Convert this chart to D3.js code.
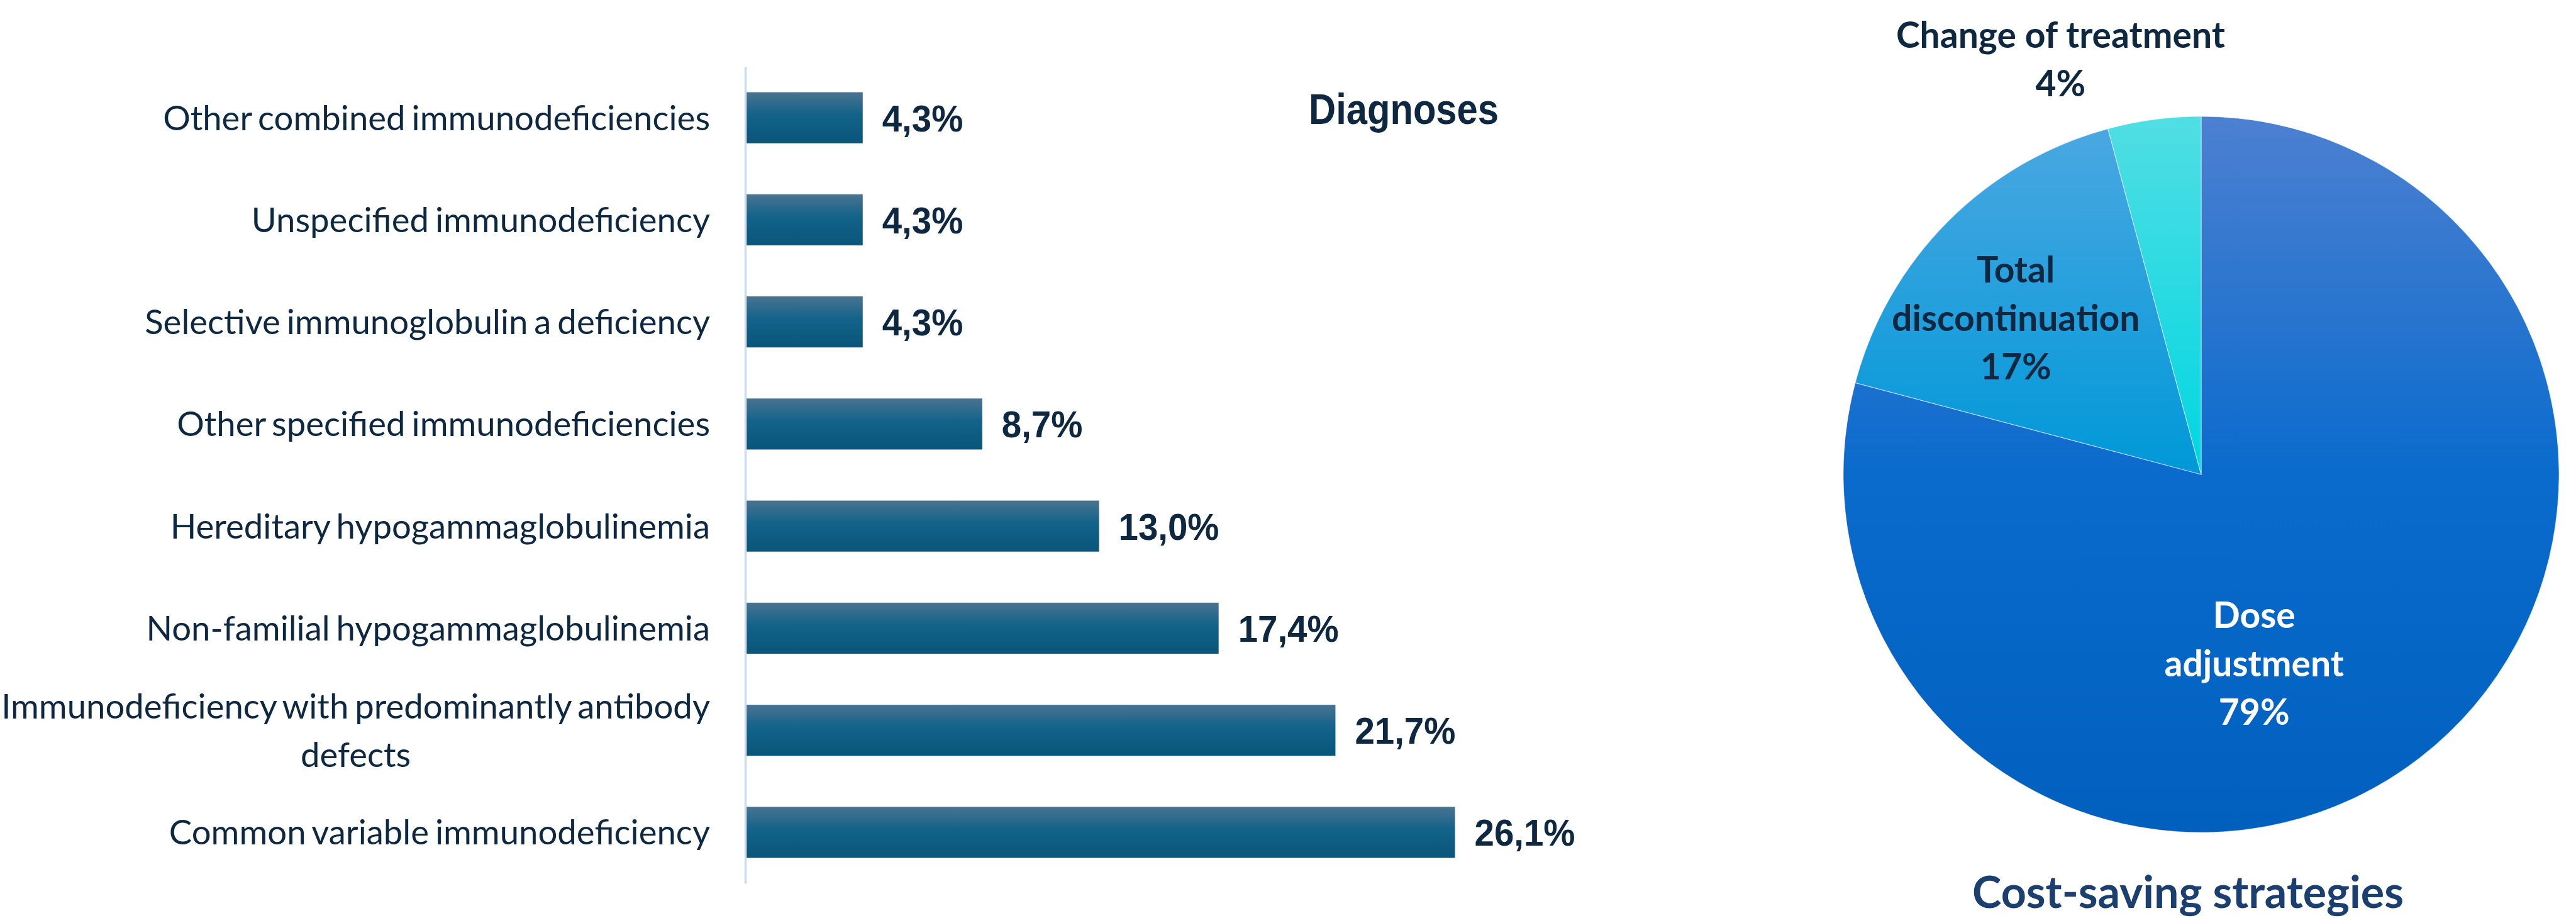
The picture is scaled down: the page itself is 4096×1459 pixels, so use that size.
<!DOCTYPE html>
<html>
<head>
<meta charset="utf-8">
<script src="https://cdn.jsdelivr.net/npm/d3@7"></script>
<style>
  html, body { margin: 0; padding: 0; background: #ffffff; }
  svg { display: block; }
</style>
</head>
<body>
<svg id="chart" width="4096" height="1459"></svg>
<script>
// ---------- data ----------
const categories = [
  "Other combined immunodeficiencies",
  "Unspecified immunodeficiency",
  "Selective immunoglobulin a deficiency",
  "Other specified immunodeficiencies",
  "Hereditary hypogammaglobulinemia",
  "Non-familial hypogammaglobulinemia",
  "Immunodeficiency with predominantly antibody defects",
  "Common variable immunodeficiency"
];
const values = [4.3, 4.3, 4.3, 8.7, 13.0, 17.4, 21.7, 26.1];
const barTitle = "Diagnoses";

const strategies = ["Dose adjustment", "Total discontinuation", "Change of treatment"];
const strategyValues = [79.2, 16.7, 4.2];
const pieTitle = "Cost-saving strategies";

// ---------- layout ----------
const svg = d3.select("#chart");
const dark = "#0E2841";
const boldSans = "'Liberation Sans', Arial, sans-serif";
const sans = "Lato, 'Open Sans', sans-serif";

const defs = svg.append("defs");

const bg = defs.append("linearGradient").attr("id", "barGrad")
  .attr("x1", 0).attr("y1", 0).attr("x2", 0).attr("y2", 1);
bg.append("stop").attr("offset", "0%").attr("stop-color", "#4A7391");
bg.append("stop").attr("offset", "45%").attr("stop-color", "#12628A");
bg.append("stop").attr("offset", "100%").attr("stop-color", "#0A5579");

// ---------- bar chart ----------
const axisX = 1185;
const x = d3.scaleLinear().domain([0, 30]).range([axisX + 1, axisX + 1 + 30 * 43.2]);
const y = d3.scaleBand().domain(categories).range([106, 1404])
  .paddingInner(0.5).paddingOuter(0.25);

const barG = svg.append("g");
barG.selectAll("rect.bar").data(categories).join("rect")
  .attr("class", "bar")
  .attr("x", x(0))
  .attr("y", d => y(d))
  .attr("width", (d, i) => x(values[i]) - x(0))
  .attr("height", y.bandwidth())
  .attr("fill", "url(#barGrad)");

const yAxis = d3.axisLeft(y).tickSize(0).tickFormat("");
const axG = svg.append("g").attr("transform", `translate(${axisX},0)`).call(yAxis);
axG.select(".domain").attr("stroke", "#C9DCF0").attr("stroke-width", 3.5);

const fmt = v => d3.format(".1f")(v).replace(".", ",") + "%";
barG.selectAll("text.val").data(categories).join("text")
  .attr("class", "val")
  .attr("x", (d, i) => x(values[i]) + 31)
  .attr("y", d => y(d) + y.bandwidth() / 2)
  .attr("dy", "0.36em")
  .attr("font-family", boldSans)
  .attr("font-weight", 700)
  .attr("font-size", 60)
  .attr("fill", dark)
  .text((d, i) => fmt(values[i]))
  .each(function () {
    const w = this.getComputedTextLength();
    d3.select(this).attr("textLength", w * 0.94).attr("lengthAdjust", "spacingAndGlyphs");
  });

// category labels with wrapping, block right-aligned, lines centred
const labelRight = 1129;
const lineH = 77;
const catG = svg.append("g");
categories.forEach(cat => {
  const t = catG.append("text")
    .attr("font-family", sans)
    .attr("font-size", 54.5)
    .attr("word-spacing", -4)
    .attr("fill", dark);
  const words = cat.split(" ");
  const lines = [];
  let cur = [];
  const probe = t.append("tspan");
  words.forEach(w => {
    const test = cur.concat([w]).join(" ");
    probe.text(test);
    if (probe.node().getComputedTextLength() > 1180 && cur.length) {
      lines.push(cur.join(" "));
      cur = [w];
    } else cur.push(w);
  });
  lines.push(cur.join(" "));
  probe.remove();
  const widths = lines.map(l => { const p = t.append("tspan").text(l); const w = p.node().getComputedTextLength(); p.remove(); return w; });
  const maxW = d3.max(widths);
  const cxl = labelRight - maxW / 2;
  const cyl = y(cat) + y.bandwidth() / 2;
  lines.forEach((l, k) => {
    t.append("tspan")
      .attr("x", cxl)
      .attr("text-anchor", "middle")
      .attr("y", cyl + (k - (lines.length - 1) / 2) * lineH)
      .attr("dy", "0.36em")
      .text(l);
  });
});

svg.append("text")
  .attr("x", 2232).attr("y", 197)
  .attr("text-anchor", "middle")
  .attr("font-family", boldSans)
  .attr("font-weight", 700)
  .attr("font-size", 68)
  .attr("textLength", 302)
  .attr("lengthAdjust", "spacingAndGlyphs")
  .attr("fill", dark)
  .text(barTitle);

// ---------- pie chart ----------
const cx = 3500, cy = 754, R = 569;
const pieColors = [
  ["#4D80D1", "#0A6BCD", "#0160BE"],
  ["#4CA8E2", "#0098D8", "#0090D0"],
  ["#50DEE3", "#00D6E1", "#00D0DC"]
];
pieColors.forEach((c, i) => {
  const g = defs.append("linearGradient").attr("id", "pg" + i)
    .attr("gradientUnits", "userSpaceOnUse")
    .attr("x1", 0).attr("y1", -R).attr("x2", 0).attr("y2", R);
  g.append("stop").attr("offset", "0%").attr("stop-color", c[0]);
  g.append("stop").attr("offset", "50%").attr("stop-color", c[1]);
  g.append("stop").attr("offset", "100%").attr("stop-color", c[2]);
});

const pie = d3.pie().sort(null).value(d => d)(strategyValues);
const arc = d3.arc().innerRadius(0).outerRadius(R);
const pieG = svg.append("g").attr("transform", `translate(${cx},${cy})`);
pieG.selectAll("path").data(pie).join("path")
  .attr("d", arc)
  .attr("fill", (d, i) => `url(#pg${i})`)
  .attr("stroke", "#ffffff")
  .attr("stroke-opacity", 0.5)
  .attr("stroke-width", 1.2);

const labelPos = [
  { dx: 0.148, dy: 0.528, lines: ["Dose", "adjustment"], color: "#ffffff" },
  { dx: -0.518, dy: -0.437, lines: ["Total", "discontinuation"], color: dark },
  { dx: -0.393, dy: -1.16, lines: ["Change of treatment"], color: dark }
];
const pct = d3.format(".0f");
pie.forEach((d, i) => {
  const lp = labelPos[i];
  const all = lp.lines.concat([pct(d.data) + "%"]);
  const lh = 77;
  const t = pieG.append("text")
    .attr("text-anchor", "middle")
    .attr("font-family", sans)
    .attr("font-weight", 700)
    .attr("font-size", 57)
    .attr("fill", lp.color);
  all.forEach((l, k) => {
    t.append("tspan")
      .attr("x", lp.dx * R)
      .attr("y", lp.dy * R + (k - (all.length - 1) / 2) * lh)
      .attr("dy", "0.36em")
      .text(l);
  });
});

svg.append("text")
  .attr("x", 3479).attr("y", 1443)
  .attr("text-anchor", "middle")
  .attr("font-family", sans)
  .attr("font-weight", 700)
  .attr("font-size", 70)
  .attr("fill", "#1B3F6E")
  .text(pieTitle);
</script>
</body>
</html>
